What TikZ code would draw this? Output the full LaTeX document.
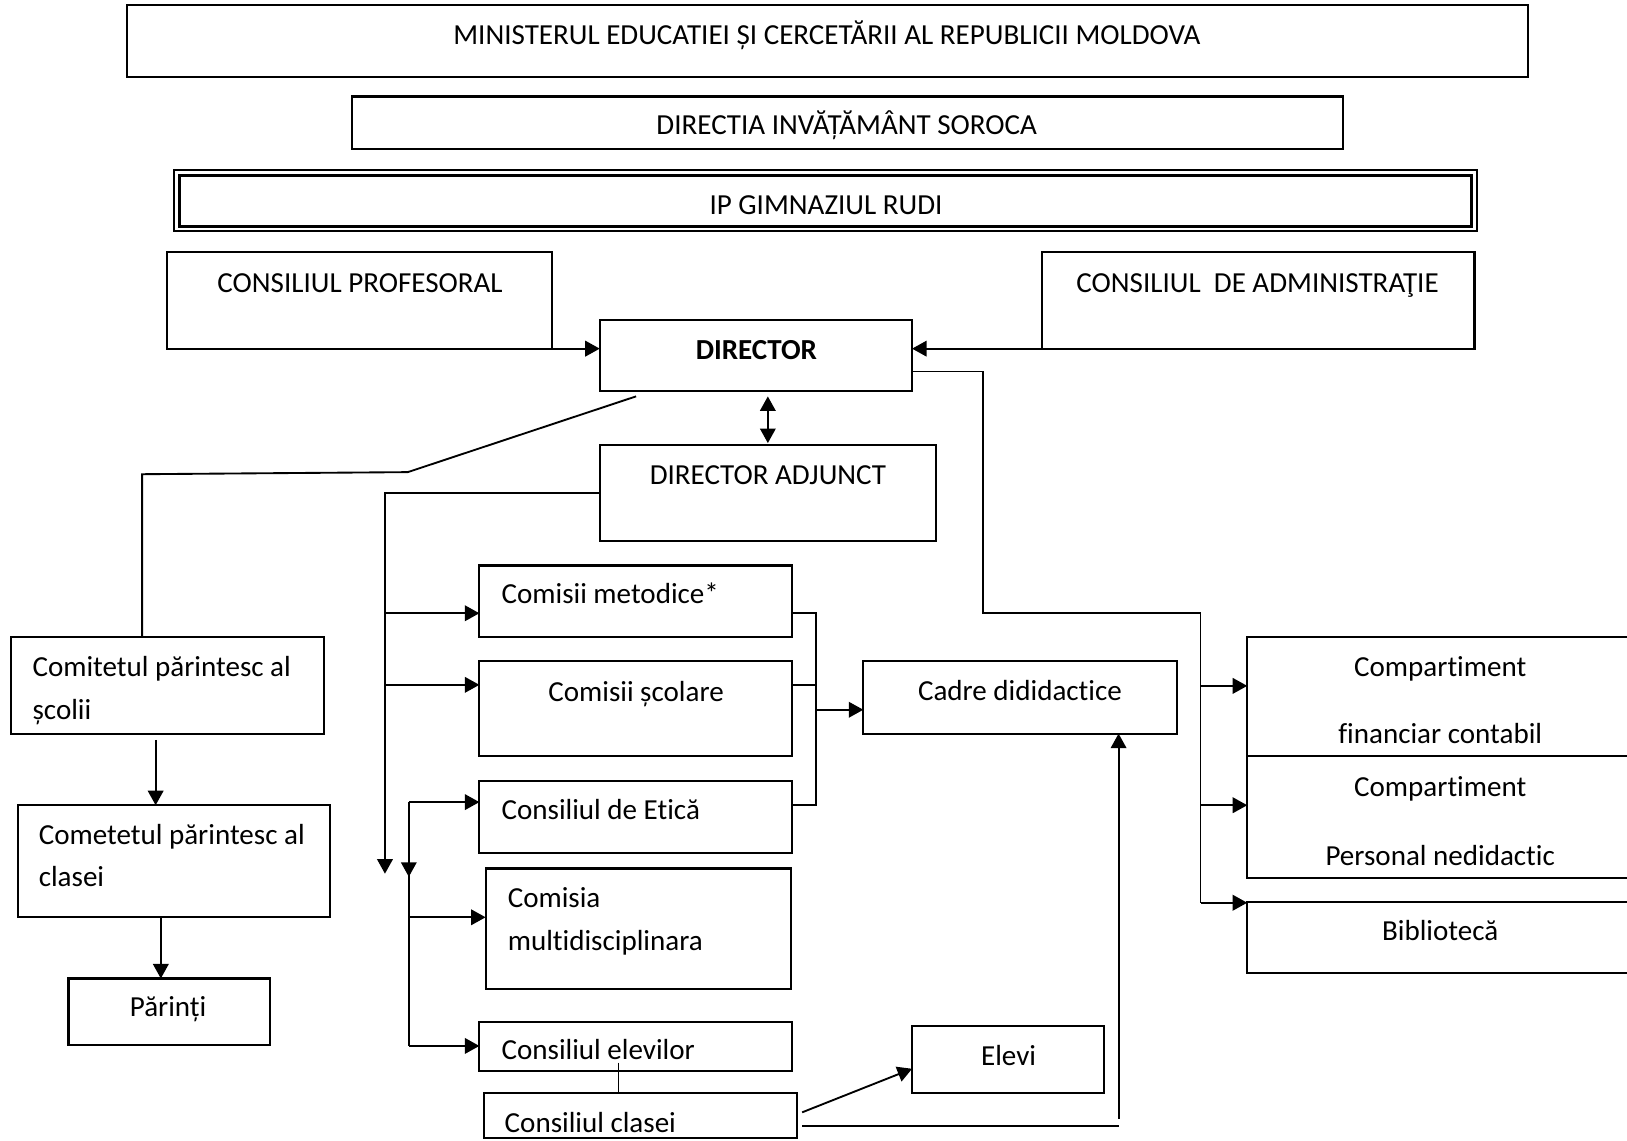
\documentclass[tikz,border=0pt]{standalone}
\usepackage{fontspec}
\setmainfont{Carlito}[Ligatures={NoCommon}]
\usetikzlibrary{arrows.meta,calc}
\newcommand\bx[5]{\node[box,minimum width={0.5pt*(#4-#2)},minimum height={0.5pt*(#5-#3)}] (#1) at (#2,#3) {};}
\begin{document}
\begin{tikzpicture}[x=0.5pt,y=-0.5pt,
  box/.style={draw,line width=1pt,inner sep=0pt,outer sep=0pt,anchor=north west},
  txt/.style={inner sep=0pt,font=\fontsize{14}{17}\selectfont},
  con/.style={line width=0.9pt},
  arr/.style={con,-{Triangle[length=7pt,width=7.5pt]}},
  darr/.style={con,{Triangle[length=7pt,width=7.5pt]}-{Triangle[length=7pt,width=7.5pt]}}]
\useasboundingbox (0,0) rectangle (1568,1099);
\fill[white] (0,0) rectangle (1568,1099);
\clip (0,0) rectangle (1568,1099);

% boxes
\bx{min}{122}{5}{1473}{74}
\bx{dirs}{339}{93}{1294}{144}
\bx{ip}{168}{164}{1423}{223}
\draw[line width=1.4pt] ($(ip.north west)+(5,5)$) rectangle ($(ip.south east)+(-5,-5)$);
\bx{cp}{161}{243}{532}{336}
\bx{ca}{1004}{243}{1421}{336}
\bx{dir}{578}{308}{879}{377}
\bx{adj}{578}{429}{902}{521}
\bx{cm}{462}{545}{763}{614}
\bx{cs}{462}{637}{763}{729}
\bx{ce}{462}{753}{763}{822}
\bx{cmd}{468}{837}{762}{953}
\bx{cel}{462}{985}{763}{1032}
\bx{ccl}{466}{1053}{768}{1097}
\bx{cad}{832}{637}{1134}{707}
\bx{elv}{879}{989}{1064}{1053}
\bx{cf}{1202}{614}{1580}{729}
\bx{cpn}{1202}{729}{1580}{846}
\bx{bib}{1202}{869}{1580}{938}
\bx{com1}{11}{614}{312}{707}
\bx{com2}{17}{776}{318}{884}
\bx{par}{66}{943}{260}{1007}

% texts
\node[txt,anchor=base] (tmin) at (797,43) {MINISTERUL EDUCATIEI ȘI CERCETĂRII AL REPUBLICII MOLDOVA};
\node[txt,anchor=base] (tdirs) at (816,130) {DIRECTIA INVĂȚĂMÂNT SOROCA};
\node[txt,anchor=base] (tip) at (796,207) {IP GIMNAZIUL RUDI};
\node[txt,anchor=base] (tcp) at (347,282) {CONSILIUL PROFESORAL};
\node[txt,anchor=base] (tca) at (1212,282) {CONSILIUL\ \ DE ADMINISTRAŢIE};
\node[txt,anchor=base,font=\fontsize{14}{17}\selectfont\bfseries] (tdir) at (729,346) {DIRECTOR};
\node[txt,anchor=base] (tadj) at (740,467) {DIRECTOR ADJUNCT};
\node[txt,anchor=base west] (tcm) at (483,582) {Comisii metodice*};
\node[txt,anchor=base] (tcs) at (613,676) {Comisii școlare};
\node[txt,anchor=base] (tcad) at (983,675) {Cadre dididactice};
\node[txt,anchor=base west] (tce) at (483,790) {Consiliul de Etică};
\node[txt,anchor=base west] (tcmd1) at (489,875) {Comisia};
\node[txt,anchor=base west] (tcmd2) at (489,916) {multidisciplinara};
\node[txt,anchor=base west] (tcel) at (483,1021) {Consiliul elevilor};
\node[txt,anchor=base west] (tccl) at (486,1091) {Consiliul clasei};
\node[txt,anchor=base] (telv) at (972,1027) {Elevi};
\node[txt,anchor=base] (tcf1) at (1388,652) {Compartiment};
\node[txt,anchor=base] (tcf2) at (1388,717) {financiar contabil};
\node[txt,anchor=base] (tcpn1) at (1388,768) {Compartiment};
\node[txt,anchor=base] (tcpn2) at (1388,834) {Personal nedidactic};
\node[txt,anchor=base] (tbib) at (1388,906) {Bibliotecă};
\node[txt,anchor=base west] (tcom1a) at (31,652) {Comitetul părintesc al};
\node[txt,anchor=base west] (tcom1b) at (31,693) {școlii};
\node[txt,anchor=base west] (tcom2a) at (37,814) {Cometetul părintesc al};
\node[txt,anchor=base west] (tcom2b) at (37,854) {clasei};
\node[txt,anchor=base] (tpar) at (162,980) {Părinți};

% connectors
\draw[arr] (cp.south east) -- (cp.south east -| dir.west);
\draw[arr] ($(ca.south west)+(12,0)$) -- (ca.south west -| dir.east);
\draw[darr] ($(adj.north)+(0,-47)$) -- ($(adj.north)+(0,-2)$);
\draw[con] ($(dir.south west)+(35,5)$) -- (393,455) -- (137,457) -- ($(com1.north west)+(126,0)$);
\draw[arr] (adj.west) -- (371,475) -- (371,842);
\draw[arr] (371,591) -- (cm.west |- 0,591);
\draw[arr] (371,660) -- (cs.west |- 0,660);
\draw[con] (394,773) -- (394,1008);
\draw[arr] (394,773) -- (394,845);
\draw[arr] (394,773) -- (ce.west |- 0,773);
\draw[arr] (394,884) -- (cmd.west |- 0,884);
\draw[arr] (394,1008) -- (cel.west |- 0,1008);
\draw[con] (cm.east |- 0,591) -- (786,591) -- (786,776) -- (ce.east |- 0,776);
\draw[con] (cs.east |- 0,660) -- (786,660);
\draw[arr] (786,684) -- (cad.west |- 0,684);
\draw[con] ($(cel.north west)+(134,39)$) -- ($(ccl.north west)+(130,0)$);
\draw[arr] ($(ccl.north east)+(5,19)$) -- (elv.west |- 0,1030);
\draw[con] ($(ccl.north east)+(5,32)$) -- (1078,1085);
\draw[arr] (1078,1078) -- (cad.south -| 1078,0);
\draw[con] (dir.east |- 0,358) -- (947,358) -- (947,591) -- (1157,591) -- (1157,870);
\draw[arr] (1157,661) -- (cf.west |- 0,661);
\draw[arr] (1157,776) -- (cpn.west |- 0,776);
\draw[arr] (1157,870) -- (bib.west |- 0,870);
\draw[arr] (150,713) -- (com2.north -| 150,0);
\draw[arr] (155,884) -- (par.north -| 155,0);
\end{tikzpicture}
\end{document}
